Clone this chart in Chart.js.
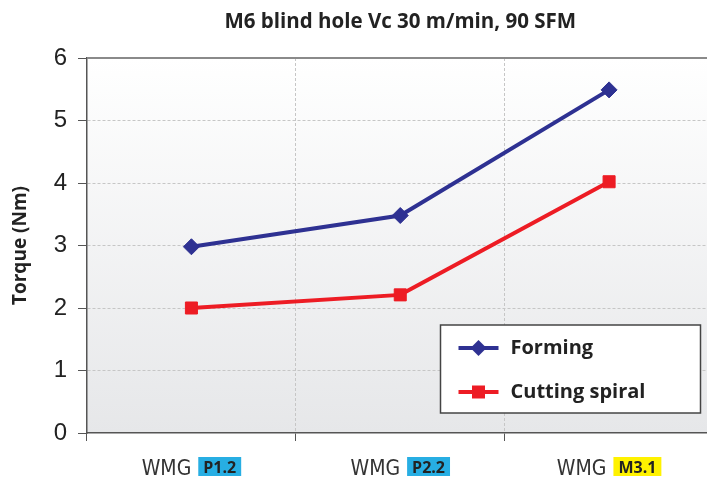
<!DOCTYPE html>
<html>
<head>
<meta charset="utf-8">
<script src="https://cdn.jsdelivr.net/npm/chart.js@4"></script>
<style>
  html, body { margin: 0; padding: 0; background: #fff; overflow: hidden; }
  #wrap { width: 707px; height: 477px; overflow: hidden; }
</style>
</head>
<body>
<div id="wrap"><canvas id="myChart" width="723" height="477"></canvas></div>
<script>
// chart data
const chartTitle = 'M6 blind hole Vc 30 m/min, 90 SFM';
const categories = ['P1.2', 'P2.2', 'M3.1'];
const labelPrefix = 'WMG';
const forming = [2.98, 3.48, 5.49];
const cuttingSpiral = [2.0, 2.21, 4.02];
const yTicks = [0, 1, 2, 3, 4, 5, 6];

// badge colours behind the material codes
const badgeColors = ['#27aee3', '#27aee3', '#fff200'];

const blue = '#2e3192';
const red = '#ed1c24';

// plot background, title, x labels and legend
const decorations = {
    id: 'decorations',
    beforeDraw(chart) {
        const { ctx, chartArea: a } = chart;
        const g = ctx.createLinearGradient(0, a.top, 0, a.bottom);
        g.addColorStop(0, '#ffffff');
        g.addColorStop(1, '#e6e7e9');
        ctx.save();
        ctx.fillStyle = g;
        ctx.fillRect(a.left, a.top, a.right - a.left, a.bottom - a.top);
        ctx.restore();
    },
    afterDraw(chart) {
        const { ctx, chartArea: a } = chart;
        const x = chart.scales.x;
        ctx.save();

        // top border of the plot
        ctx.strokeStyle = '#8a8a8a';
        ctx.lineWidth = 2;
        ctx.beginPath();
        ctx.moveTo(a.left, a.top);
        ctx.lineTo(a.right, a.top);
        ctx.stroke();

        // title, centred over the plot area
        ctx.fillStyle = '#222';
        ctx.font = 'bold 20.5px "Open Sans"';
        ctx.textAlign = 'center';
        ctx.textBaseline = 'middle';
        ctx.fillText(chartTitle, (a.left + a.right) / 2, 22);

        // x labels: "WMG" + coloured badge
        const wmgFont = '21px "Liberation Sans Narrow", "DejaVu Sans Condensed", sans-serif';
        const badgeFont = 'bold 16px "Open Sans"';
        categories.forEach((c, i) => {
            const cx = x.getPixelForValue(i);
            ctx.font = wmgFont;
            const w1 = ctx.measureText(labelPrefix).width;
            ctx.font = badgeFont;
            const w2 = ctx.measureText(c).width + 10;
            const gap = 7;
            const x0 = cx - (w1 + gap + w2) / 2;
            ctx.textAlign = 'left';
            ctx.textBaseline = 'alphabetic';
            ctx.fillStyle = '#333';
            ctx.font = wmgFont;
            ctx.fillText(labelPrefix, x0, 475);
            ctx.fillStyle = badgeColors[i];
            ctx.fillRect(x0 + w1 + gap, 457, w2, 19);
            ctx.fillStyle = '#222';
            ctx.font = badgeFont;
            ctx.fillText(c, x0 + w1 + gap + 5, 473);
        });

        // legend box
        const bx = a.right - 273, by = a.bottom - 108, bw = 260, bh = 88;
        ctx.fillStyle = '#fff';
        ctx.fillRect(bx, by, bw, bh);
        ctx.strokeStyle = '#444';
        ctx.lineWidth = 1.5;
        ctx.strokeRect(bx, by, bw, bh);
        chart.data.datasets.forEach((ds, i) => {
            const iy = by + 23 + i * 44;
            const lx = bx + 18;
            ctx.strokeStyle = ds.borderColor;
            ctx.lineWidth = 4;
            ctx.beginPath();
            ctx.moveTo(lx, iy);
            ctx.lineTo(lx + 40, iy);
            ctx.stroke();
            ctx.fillStyle = ds.borderColor;
            const mx = lx + 20;
            ctx.beginPath();
            if (ds.pointStyle === 'rectRot') {
                ctx.moveTo(mx - 8, iy);
                ctx.lineTo(mx, iy - 8);
                ctx.lineTo(mx + 8, iy);
                ctx.lineTo(mx, iy + 8);
                ctx.closePath();
            } else {
                ctx.rect(mx - 6.5, iy - 6.5, 13, 13);
            }
            ctx.fill();
            ctx.fillStyle = '#222';
            ctx.font = 'bold 20px "Open Sans"';
            ctx.textAlign = 'left';
            ctx.textBaseline = 'middle';
            ctx.fillText(ds.label, bx + 70, iy);
        });
        ctx.restore();
    }
};

const ctx = document.getElementById('myChart').getContext('2d');

const myChart = new Chart(ctx, {
    type: 'line',
    data: {
        labels: categories,
        datasets: [{
            label: 'Forming',
            data: forming,
            borderColor: blue,
            backgroundColor: blue,
            borderWidth: 4,
            pointStyle: 'rectRot',
            pointRadius: 8,
            pointBorderWidth: 1,
            fill: false,
            tension: 0
        }, {
            label: 'Cutting spiral',
            data: cuttingSpiral,
            borderColor: red,
            backgroundColor: red,
            borderWidth: 4,
            pointStyle: 'rect',
            pointRadius: 8.5,
            pointBorderWidth: 1,
            fill: false,
            tension: 0
        }]
    },
    options: {
        responsive: false,
        animation: false,
        devicePixelRatio: 1,
        layout: { padding: { top: 58, right: 1, left: 0, bottom: 0 } },
        plugins: {
            legend: { display: false },
            title: { display: false },
            tooltip: { enabled: false }
        },
        scales: {
            x: {
                offset: true,
                grid: {
                    offset: true,
                    color: '#c6c6c6',
                    tickColor: '#555',
                    tickLength: 8,
                    lineWidth: 1
                },
                border: { color: '#555', width: 1.5, dash: [3, 2] },
                ticks: { display: false },
                afterFit(scale) { scale.height = 44; }
            },
            y: {
                min: 0,
                max: 6,
                afterBuildTicks(scale) { scale.ticks = yTicks.map(v => ({ value: v })); },
                ticks: {
                    color: '#222',
                    font: { family: '"Liberation Sans", Arial, sans-serif', size: 24 },
                    padding: 11
                },
                grid: {
                    color: c => (c.tick && (c.tick.value === 0 || c.tick.value === 6)) ? 'rgba(0,0,0,0)' : '#c6c6c6',
                    tickColor: '#555',
                    tickLength: 9,
                    lineWidth: 1
                },
                border: { color: '#555', width: 1.5, dash: [3, 2] },
                title: {
                    display: true,
                    text: 'Torque (Nm)',
                    color: '#222',
                    font: { family: '"Open Sans"', size: 19, weight: 'bold' },
                    padding: { top: 9, bottom: 0 }
                },
                afterFit(scale) { scale.width = 87; }
            }
        }
    },
    plugins: [decorations]
});
</script>
</body>
</html>
